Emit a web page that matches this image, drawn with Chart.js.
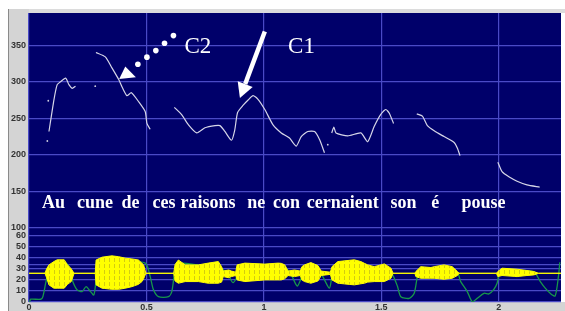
<!DOCTYPE html>
<html>
<head>
<meta charset="utf-8">
<script src="https://cdn.jsdelivr.net/npm/chart.js@4.4.0/dist/chart.umd.min.js"></script>
<style>
body { margin: 0; background: #fff; }
canvas { display: block; }
</style>
</head>
<body>
<canvas id="pitchChart" width="565" height="311"></canvas>
<script>
// PITCH CONTOUR (s, Hz) - null marks an unvoiced gap
const pitchTime = [0.085, 0.106, 0.120, 0.134, 0.156, 0.170, 0.184, 0.198, 0.24,
    0.285, 0.325, 0.353, 0.382, 0.399, 0.417, 0.436, 0.466, 0.495, 0.502, 0.516, 0.57,
    0.619, 0.650, 0.679, 0.714, 0.749, 0.792, 0.813, 0.834, 0.862, 0.876, 0.888, 0.912, 0.933, 0.954, 0.975,
    1.004, 1.039, 1.074, 1.109, 1.138, 1.159, 1.187, 1.216, 1.237, 1.258, 1.27,
    1.289, 1.298, 1.307, 1.357, 1.413, 1.442, 1.470, 1.497, 1.519, 1.534, 1.552, 1.6,
    1.651, 1.675, 1.696, 1.725, 1.767, 1.810, 1.824, 1.835, 1.9,
    1.996, 2.014, 2.043, 2.078, 2.120, 2.174]
const pitchHz = [232, 275, 296, 300, 305, 296, 291, 294, null,
    340, 334, 319, 303, 291, 281, 285, 273, 259, 243, 235, null,
    265, 255, 241, 230, 237, 240, 240, 232, 220, 234, 258, 268, 275, 281, 276,
    262, 241, 230, 223, 212, 225, 232, 232, 221, 203, null,
    230, 238, 230, 226, 230, 218, 239, 255, 262, 257, 243, null,
    256, 253, 240, 233, 225, 217, 209, 199, null,
    190, 177, 170, 164, 159, 156]

// stray pitch points
const dotTime = [0.078, 0.082, 0.282, 1.272]
const dotHz = [219, 274, 294, 214]

// WAVEFORM envelope (drawn on the lower scale, centre 26)
const waveTime = [0, 0.068, 0.075, 0.085, 0.106, 0.12, 0.15, 0.164, 0.18, 0.192,
    0.282, 0.2856, 0.311, 0.353, 0.382, 0.41, 0.438, 0.466, 0.481, 0.488, 0.4975,
    0.616, 0.622, 0.636, 0.665, 0.721, 0.763, 0.806, 0.82, 0.827, 0.85, 0.862, 0.88,
    0.886, 0.919, 1.004, 1.06, 1.074, 1.089, 1.103, 1.13, 1.155,
    1.162, 1.173, 1.2, 1.23, 1.244, 1.283,
    1.29, 1.315, 1.385, 1.413, 1.428, 1.442, 1.47, 1.513, 1.541, 1.55,
    1.643, 1.647, 1.668, 1.711, 1.725, 1.767, 1.802, 1.824, 1.831,
    1.99, 1.996, 2.014, 2.078, 2.12, 2.149, 2.17, 2.265]
const waveTop = [26, 26, 30, 33.6, 36.6, 38.2, 38.2, 33.6, 30, 26,
    26, 38, 40.6, 41.8, 41, 39.7, 39, 38, 35, 33.6, 26,
    26, 34, 38, 33.6, 33.6, 35.2, 36.6, 32, 28, 29, 28, 27,
    33.6, 35.2, 34.3, 35.2, 35, 33.6, 28, 29, 28,
    32, 33.6, 35.7, 33, 28, 27,
    32, 36.6, 38.2, 36.6, 35, 33.6, 32, 34.5, 30.6, 26,
    26, 27.6, 32, 31.2, 32, 33.6, 32, 27.6, 26,
    26, 27.6, 30.6, 29.7, 28.5, 27.6, 26, 26]
const waveBottom = [26, 26, 22, 15.5, 12.5, 12.5, 12.5, 16, 18.5, 26,
    26, 15.5, 12.5, 11.5, 11.5, 12.5, 13.9, 16, 18.5, 21, 26,
    26, 19, 17, 18.5, 18.5, 17, 17, 18, 23, 22, 23, 24,
    20, 18.5, 20, 20, 20, 21, 24, 23, 24,
    20, 18.5, 17, 19, 24, 25,
    20, 17, 15.5, 16.5, 17, 18, 18.5, 18.5, 21.5, 26,
    26, 23, 21.5, 21.5, 21.5, 20.6, 21.5, 24, 26,
    26, 23, 24, 23, 24, 24.5, 26, 26]

// INTENSITY curve (dB)
const intensityTime = [0, 0.003, 0.007, 0.05, 0.059, 0.071, 0.085, 0.099, 0.156, 0.17,
    0.184, 0.205, 0.226, 0.243, 0.262, 0.276, 0.285, 0.297, 0.4, 0.495,
    0.516, 0.53, 0.551, 0.594, 0.608, 0.622, 0.636, 0.73, 0.82, 0.848,
    0.869, 0.891, 0.92, 1.0, 1.09, 1.117, 1.142, 1.166, 1.2, 1.23,
    1.251, 1.279, 1.293, 1.33, 1.4, 1.453, 1.462, 1.47, 1.52, 1.548,
    1.569, 1.583, 1.619, 1.64, 1.654, 1.668, 1.75, 1.824, 1.838, 1.866,
    1.887, 1.908, 1.937, 1.958, 1.979, 1.993, 2.007, 2.08, 2.149, 2.177,
    2.198, 2.219, 2.24, 2.254, 2.26]
const intensityDb = [0, 0.3, 2.5, 2.5, 4.8, 17, 29, 33.6, 35.2, 32,
    20, 11, 9.4, 13.9, 9.4, 6.4, 18.5, 35.2, 37, 35.2,
    23, 11, 4.8, 4.8, 9.4, 29, 35.2, 33, 30, 24.5,
    17.5, 24.5, 31, 32, 31, 24.5, 14.5, 24.5, 31, 30,
    23, 12.5, 24.5, 31, 33, 28, 23, 28, 30, 24.5,
    14, 4.8, 3.3, 7.9, 23, 27.5, 29, 26, 18.5, 9.4,
    0.3, 3.3, 7.9, 7.3, 11.5, 17, 27.5, 28, 27.5, 18.5,
    12.5, 7.9, 5.5, 23, 36]

// TICKS
const timeTicks = [0, 0.5, 1, 1.5, 2]
const hzTicks = [100, 150, 200, 250, 300, 350]
const dbTicks = [0, 10, 20, 30, 33.5, 40, 50, 60]
const dbLabelled = [0, 10, 20, 30, 40, 50, 60]

// TRANSCRIPTION, words placed at their start time
const phraseWords = ['Au', 'cune', 'de', 'ces', 'raisons', 'ne', 'con', 'cernaient', 'son', 'é', 'pouse']
const phraseTimes = [0.055, 0.204, 0.394, 0.526, 0.645, 0.929, 1.039, 1.183, 1.539, 1.713, 1.841]
const calloutLabels = ['C2', 'C1']
const calloutTimes = [0.662, 1.103]

function pts(xs, ys) {
    return xs.map((x, i) => ({x: x, y: ys[i]}))
}

const NAVY = '#00006a'
const GRID = '#4a4ac6'

// striped fill so the waveform looks like dense samples
function stripes() {
    const c = document.createElement('canvas')
    c.width = 5
    c.height = 6
    const g = c.getContext('2d')
    g.fillStyle = '#ffff00'
    g.fillRect(0, 0, 5, 6)
    g.fillStyle = '#d2cc10'
    g.fillRect(4, 0, 1, 4)
    return g.createPattern(c, 'repeat')
}

const framePlugin = {
    id: 'frame',
    beforeDraw(chart) {
        const ctx = chart.ctx
        const a = chart.chartArea
        ctx.save()
        ctx.fillStyle = '#fff'
        ctx.fillRect(0, 0, chart.width, chart.height)
        ctx.fillStyle = '#d4d4d4'
        ctx.fillRect(8, 9, a.left - 8, chart.height - 9)
        ctx.fillRect(8, a.bottom, chart.width - 8, chart.height - a.bottom)
        ctx.fillStyle = '#dcdcdc'
        ctx.fillRect(a.left, 9, chart.width - a.left, a.top - 9)
        ctx.fillStyle = '#8a8a8a'
        ctx.fillRect(8, 9, 1, chart.height - 9)
        ctx.fillStyle = NAVY
        ctx.fillRect(a.left, a.top, a.right - a.left, a.bottom - a.top)
        ctx.restore()
    }
}

const notesPlugin = {
    id: 'notes',
    afterDatasetsDraw(chart) {
        const ctx = chart.ctx
        const sx = chart.scales.x
        const sy = chart.scales.yP
        const px = (t, f) => [sx.getPixelForValue(t), sy.getPixelForValue(f)]
        ctx.save()
        ctx.fillStyle = '#fff'
        ctx.strokeStyle = '#fff'
        ctx.textBaseline = 'alphabetic'

        // transcription
        ctx.font = "bold 18px 'Liberation Serif'"
        phraseWords.forEach((w, i) => {
            const p = px(phraseTimes[i], 127)
            ctx.fillText(w, p[0], p[1])
        })

        // C1 / C2
        ctx.font = "23px 'Liberation Serif'"
        calloutLabels.forEach((w, i) => {
            const p = px(calloutTimes[i], 339.5)
            ctx.fillText(w, p[0], p[1])
        })

        // C1 arrow
        const tail = px(1.004, 368.6)
        const tip = px(0.898, 277.6)
        const ang = Math.atan2(tip[1] - tail[1], tip[0] - tail[0])
        const headLen = 15, headW = 8
        const bx = tip[0] - headLen * Math.cos(ang)
        const by = tip[1] - headLen * Math.sin(ang)
        ctx.lineWidth = 4.5
        ctx.beginPath()
        ctx.moveTo(tail[0], tail[1])
        ctx.lineTo(bx, by)
        ctx.stroke()
        ctx.beginPath()
        ctx.moveTo(tip[0], tip[1])
        ctx.lineTo(bx + headW * Math.sin(ang), by - headW * Math.cos(ang))
        ctx.lineTo(bx - headW * Math.sin(ang), by + headW * Math.cos(ang))
        ctx.closePath()
        ctx.fill()

        // C2 dotted arrow
        const dotsT = [0.615, 0.577, 0.540, 0.502, 0.4635]
        const dotsF = [363.1, 352.7, 342.6, 333.6, 324.0]
        dotsT.forEach((t, i) => {
            const p = px(t, dotsF[i])
            ctx.beginPath()
            ctx.arc(p[0], p[1], 2.8, 0, Math.PI * 2)
            ctx.fill()
        })
        const h1 = px(0.384, 303.6), h2 = px(0.410, 320.8), h3 = px(0.455, 306.3)
        ctx.beginPath()
        ctx.moveTo(h1[0], h1[1])
        ctx.lineTo(h2[0], h2[1])
        ctx.lineTo(h3[0], h3[1])
        ctx.closePath()
        ctx.fill()
        ctx.restore()
    }
}

const tickFont = {family: 'Liberation Sans', size: 9, weight: 'bold'}

new Chart(document.getElementById('pitchChart'), {
    type: 'line',
    data: {
        datasets: [{
                label: 'F0',
                data: pts(pitchTime, pitchHz),
                yAxisID: 'yP',
                borderColor: '#d6d6e8',
                borderWidth: 1.2,
                pointRadius: 0,
                spanGaps: false,
                tension: 0.2
            },
            {
                label: 'F0 dots',
                data: pts(dotTime, dotHz),
                yAxisID: 'yP',
                showLine: false,
                pointRadius: 0.9,
                pointBorderWidth: 0,
                pointBackgroundColor: '#cfcfe0'
            },
            {
                label: 'wave top',
                data: pts(waveTime, waveTop),
                yAxisID: 'yA',
                borderColor: '#ffff00',
                borderWidth: 1,
                backgroundColor: stripes(),
                fill: '+1',
                pointRadius: 0
            },
            {
                label: 'wave bottom',
                data: pts(waveTime, waveBottom),
                yAxisID: 'yA',
                borderColor: '#ffff00',
                borderWidth: 1,
                pointRadius: 0
            },
            {
                label: 'intensity',
                data: pts(intensityTime, intensityDb),
                yAxisID: 'yA',
                borderColor: '#17964a',
                borderWidth: 1.3,
                pointRadius: 0,
                tension: 0.25
            }
        ]
    },
    options: {
        responsive: false,
        animation: false,
        layout: {padding: {left: 8, top: 13, right: 1, bottom: 0}},
        plugins: {legend: {display: false}, tooltip: {enabled: false}},
        scales: {
            x: {
                type: 'linear',
                min: 0,
                max: 2.265,
                afterBuildTicks: s => { s.ticks = timeTicks.map(v => ({value: v})) },
                afterFit: s => { s.height = 9 },
                grid: {color: GRID, lineWidth: 1.2, drawTicks: false},
                border: {display: false},
                ticks: {
                    font: tickFont,
                    color: '#333',
                    padding: 0,
                    maxRotation: 0,
                    autoSkip: false,
                    callback: v => String(v)
                }
            },
            yA: {
                type: 'linear',
                position: 'left',
                stack: 'v',
                stackWeight: 74,
                min: 0,
                max: 67,
                afterBuildTicks: s => { s.ticks = dbTicks.map(v => ({value: v})) },
                afterFit: s => { s.width = 21 },
                grid: {color: GRID, lineWidth: 1.2, drawTicks: false},
                border: {display: false},
                ticks: {
                    font: tickFont,
                    color: '#333',
                    padding: 3,
                    autoSkip: false,
                    callback: v => dbLabelled.includes(v) ? String(v) : ''
                }
            },
            yP: {
                type: 'linear',
                position: 'left',
                stack: 'v',
                stackWeight: 215,
                min: 100,
                max: 394,
                afterBuildTicks: s => { s.ticks = hzTicks.map(v => ({value: v})) },
                afterFit: s => { s.width = 21 },
                grid: {color: GRID, lineWidth: 1.2, drawTicks: false},
                border: {display: false},
                ticks: {font: tickFont, color: '#333', padding: 3, autoSkip: false}
            }
        }
    },
    plugins: [framePlugin, notesPlugin]
});
</script>
</body>
</html>
